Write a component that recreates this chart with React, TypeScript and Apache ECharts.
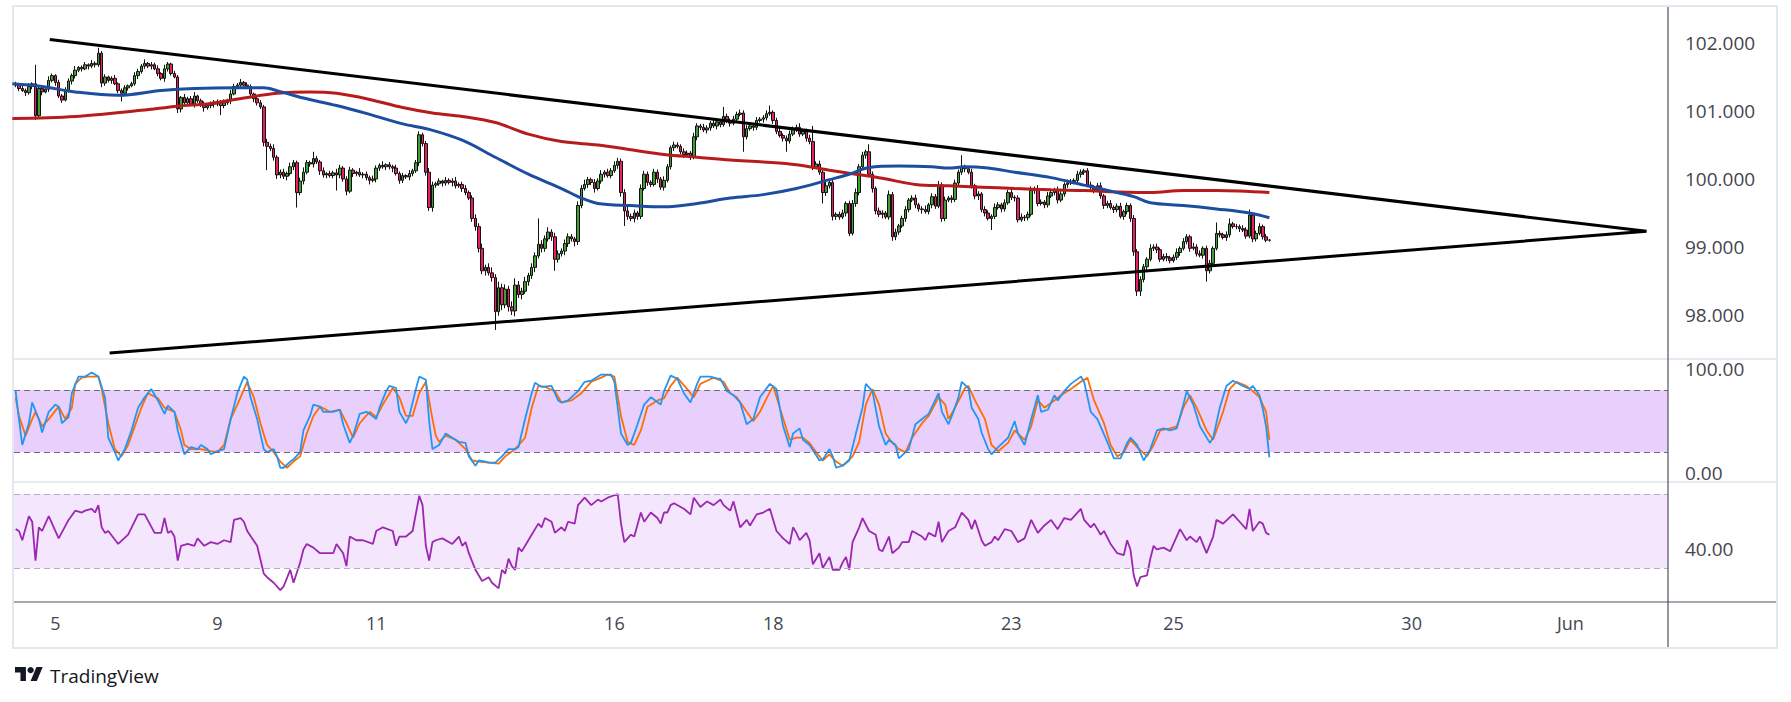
import React, { useEffect, useRef } from "react";
import * as echarts from "echarts";

// ---------- DATA ----------
const TOTAL_BARS = 500; // hourly slots on the time axis (data + empty future space)
const firstOpen = 101.4;

// hourly closes
const closes = [
  101.38, 101.33, 101.30, 101.27, 101.36, 101.40, 100.93, 101.33, 101.28, 101.32,
  101.45, 101.52, 101.42, 101.22, 101.16, 101.30, 101.44, 101.52, 101.60, 101.64,
  101.62, 101.68, 101.66, 101.70, 101.68, 101.85, 101.41, 101.50, 101.45, 101.48,
  101.40, 101.30, 101.26, 101.34, 101.37, 101.40, 101.52, 101.58, 101.66, 101.70,
  101.66, 101.68, 101.62, 101.55, 101.48, 101.62, 101.69, 101.55, 101.50, 101.03,
  101.20, 101.12, 101.18, 101.10, 101.22, 101.15, 101.10, 101.05, 101.08, 101.12,
  101.10, 101.14, 101.08, 101.12, 101.15, 101.25, 101.36, 101.38, 101.42, 101.38,
  101.36, 101.25, 101.18, 101.12, 101.06, 100.54, 100.48, 100.45, 100.32, 100.06,
  100.10, 100.04, 100.08, 100.18, 100.24, 99.80, 99.97, 100.10, 100.24, 100.22,
  100.30, 100.25, 100.12, 100.06, 100.08, 100.05, 100.09, 100.06, 100.16, 100.00,
  99.82, 100.13, 100.08, 100.10, 100.06, 100.07, 100.02, 99.98, 100.00, 100.16,
  100.20, 100.18, 100.21, 100.18, 100.16, 100.08, 99.98, 100.05, 100.03, 100.08,
  100.12, 100.24, 100.65, 100.52, 100.10, 99.58, 99.91, 99.93, 99.97, 99.94,
  99.98, 99.95, 99.97, 99.90, 99.92, 99.86, 99.80, 99.72, 99.42, 99.30,
  98.98, 98.65, 98.70, 98.62, 98.55, 98.05, 98.40, 98.15, 98.38, 98.12,
  98.06, 98.44, 98.30, 98.35, 98.49, 98.58, 98.70, 98.87, 99.04, 98.98,
  99.12, 99.22, 99.15, 98.82, 98.90, 98.94, 99.05, 99.15, 99.12, 99.08,
  99.61, 99.86, 99.92, 99.99, 99.95, 99.86, 99.97, 100.07, 100.10, 100.05,
  100.12, 100.20, 100.26, 99.80, 99.53, 99.45, 99.42, 99.50, 99.45, 99.86,
  100.07, 99.95, 99.92, 100.10, 100.00, 99.88, 99.98, 100.18, 100.46, 100.50,
  100.48, 100.40, 100.36, 100.38, 100.32, 100.62, 100.78, 100.76, 100.72, 100.75,
  100.82, 100.78, 100.84, 100.80, 100.92, 100.86, 100.82, 100.88, 100.95, 100.97,
  100.62, 100.74, 100.78, 100.76, 100.86, 100.88, 100.90, 100.96, 100.98, 100.86,
  100.70, 100.64, 100.60, 100.56, 100.66, 100.74, 100.76, 100.66, 100.70, 100.60,
  100.55, 100.18, 100.22, 100.10, 99.80, 99.90, 99.95, 99.45, 99.48, 99.44,
  99.50, 99.64, 99.20, 99.64, 99.80, 100.18, 100.35, 100.40, 100.07, 99.86,
  99.53, 99.48, 99.50, 99.44, 99.77, 99.15, 99.22, 99.31, 99.42, 99.55,
  99.69, 99.72, 99.62, 99.56, 99.55, 99.52, 99.62, 99.74, 99.60, 99.91,
  99.42, 99.69, 99.72, 99.70, 99.94, 100.10, 100.18, 100.15, 100.10, 99.90,
  99.75, 99.78, 99.55, 99.50, 99.42, 99.45, 99.58, 99.62, 99.56, 99.65,
  99.80, 99.73, 99.72, 99.40, 99.44, 99.43, 99.48, 99.83, 99.86, 99.64,
  99.66, 99.62, 99.75, 99.80, 99.84, 99.69, 99.78, 99.92, 99.94, 99.96,
  99.98, 100.07, 100.10, 100.12, 99.91, 99.88, 99.84, 99.90, 99.75, 99.61,
  99.64, 99.58, 99.55, 99.60, 99.45, 99.52, 99.61, 99.42, 98.93, 98.35,
  98.52, 98.71, 98.82, 98.98, 99.00, 98.96, 98.82, 98.86, 98.84, 98.80,
  98.85, 98.92, 98.98, 99.08, 99.15, 98.98, 99.00, 98.90, 98.88, 98.98,
  98.65, 98.76, 98.98, 99.20, 99.18, 99.14, 99.18, 99.34, 99.30, 99.30,
  99.27, 99.25, 99.16, 99.47, 99.12, 99.20, 99.30, 99.15, 99.10, 99.10,
];

// upper / lower wick lengths above/below the body, in hundredths
const wickUp = [
  3,2,4,3,5,2,28,4,3,2,6,3,2,4,3,5,4,3,6,2,
  3,4,2,5,3,8,3,4,2,3,5,2,3,4,2,3,5,4,3,6,
  2,4,3,5,2,6,3,2,4,3,2,5,3,4,6,2,3,4,3,2,
  4,3,2,5,3,6,4,3,5,2,4,3,2,3,4,3,5,4,6,3,
  4,5,3,6,4,3,5,7,4,3,10,4,3,5,2,4,3,6,5,3,
  4,5,3,2,6,3,4,3,5,4,3,6,2,4,3,5,3,4,2,5,
  3,4,5,3,4,6,5,3,4,2,5,3,4,6,3,4,5,3,4,6,
  5,7,4,6,8,5,9,6,7,5,8,10,6,5,7,4,6,5,38,6,
  5,7,4,6,5,4,6,5,4,3,6,5,7,4,3,5,4,6,3,5,
  4,6,5,4,5,6,4,5,3,6,5,4,3,5,4,3,6,4,3,5,
  4,3,5,4,3,6,4,3,5,4,3,5,3,4,14,4,3,5,4,5,
  4,5,3,4,5,3,4,5,10,3,4,5,3,4,5,3,4,6,3,4,
  5,23,4,5,3,6,4,5,3,4,5,3,4,5,6,4,5,3,11,4,
  3,5,4,3,6,4,5,3,4,5,3,4,5,3,4,6,3,5,4,6,
  4,5,3,4,5,4,17,3,4,5,3,4,3,5,4,3,6,4,3,5,
  4,8,3,4,5,3,4,6,3,5,4,3,6,4,3,5,4,3,5,4,
  3,5,4,3,4,5,3,4,5,3,4,5,3,4,5,3,4,3,5,4,
  5,4,3,6,4,5,3,4,5,3,4,6,3,5,4,3,6,4,5,3,
  4,5,3,16,4,3,5,8,3,4,3,5,4,8,3,4,5,3,4,2,
];
const wickDown = [
  3,4,2,5,3,4,6,3,5,2,4,3,5,3,4,2,3,5,4,3,
  4,2,5,3,4,3,6,4,3,5,2,4,12,3,4,2,3,5,3,4,
  3,5,2,4,3,5,4,3,2,6,5,3,4,2,5,3,4,6,3,4,
  5,3,14,4,3,5,2,4,3,5,4,3,5,4,3,6,35,4,5,6,
  5,4,6,3,5,22,4,5,3,4,5,3,6,4,5,3,4,23,5,4,
  6,3,5,4,3,5,4,6,3,5,4,3,5,4,6,3,5,4,3,5,
  4,3,5,4,5,5,6,4,3,5,4,3,6,4,3,5,4,3,5,6,
  6,5,7,4,6,27,6,8,5,7,6,8,5,7,4,6,5,7,4,6,
  5,4,6,17,5,4,6,5,4,7,5,4,3,5,4,6,3,4,5,3,
  4,3,5,6,22,5,4,6,5,4,3,5,4,3,6,4,5,3,4,5,
  3,4,5,3,4,3,5,4,3,5,4,3,5,4,3,4,5,3,4,3,
  22,4,3,5,4,3,5,4,3,5,4,3,5,16,4,3,5,4,3,5,
  4,5,3,4,16,5,4,6,5,4,3,5,4,3,5,4,3,5,4,6,
  5,4,6,3,4,6,5,4,3,5,4,3,5,4,6,3,4,5,4,3,
  5,4,3,5,4,3,4,5,3,4,5,6,4,5,3,17,4,3,5,4,
  3,4,5,4,3,5,4,3,5,4,3,5,4,3,4,5,3,4,5,3,
  4,3,5,4,3,4,5,3,4,5,4,3,5,4,3,5,4,5,6,7,
  7,4,5,3,4,5,4,3,5,4,3,4,5,3,4,5,3,4,3,5,
  16,4,5,3,4,3,5,4,3,4,5,3,4,3,5,4,3,4,3,2,
];

// moving averages: [bar index, value]
const maBlue = [
  [-1,101.40],[8,101.36],[18,101.28],[31,101.23],[44,101.30],[54,101.33],[67,101.34],[75,101.34],
  [79,101.30],[87,101.19],[97,101.08],[107,100.95],[117,100.81],[125,100.73],[135,100.57],[145,100.32],
  [155,100.07],[165,99.86],[171,99.72],[176,99.64],[186,99.61],[196,99.59],[206,99.64],[216,99.72],
  [226,99.77],[236,99.86],[246,99.99],[252,100.07],[258,100.17],[267,100.19],[277,100.18],[282,100.16],
  [287,100.18],[294,100.16],[302,100.10],[313,100.02],[323,99.91],[333,99.80],[338,99.74],[343,99.65],
  [353,99.61],[363,99.56],[373,99.50],[379,99.43],
];
const maRed = [
  [-1,100.89],[18,100.92],[38,101.01],[49,101.07],[59,101.11],[69,101.19],[79,101.26],[89,101.28],
  [97,101.26],[107,101.17],[117,101.05],[126,100.97],[135,100.92],[145,100.83],[155,100.66],[165,100.55],
  [176,100.50],[186,100.43],[196,100.36],[206,100.32],[216,100.28],[226,100.25],[236,100.21],[246,100.13],
  [254,100.07],[262,100.01],[272,99.92],[282,99.90],[292,99.88],[302,99.86],[313,99.84],[323,99.83],
  [333,99.81],[343,99.80],[353,99.83],[363,99.83],[379,99.80],
];

// symmetrical triangle: upper start, apex, lower start
const triangle = [[10.3, 102.05], [493, 99.23], [28.4, 97.44]];

// stochastic %K and %D: [bar index, value]
const stochK = [
  [0,79],[1,52],[2,27],[4,48],[5,68],[7,52],[8,39],[10,59],[12,66],[13,64],[14,48],[16,54],[17,77],[19,93],
  [21,93],[23,97],[25,93],[27,73],[28,34],[30,20],[31,12],[33,23],[35,41],[37,63],[39,73],[41,81],[43,70],
  [45,57],[46,65],[48,59],[49,41],[51,18],[53,25],[55,23],[56,27],[58,23],[59,18],[61,21],[63,23],[65,52],
  [67,77],[69,93],[70,90],[71,73],[73,52],[75,23],[76,20],[78,23],[79,16],[80,5],[81,5],[83,11],[84,13],
  [86,20],[87,41],[89,55],[90,66],[92,64],[93,59],[96,59],[98,61],[99,47],[101,29],[102,36],[104,57],
  [106,59],[107,57],[109,52],[110,63],[112,79],[113,84],[115,82],[116,59],[118,48],[119,55],[121,81],
  [122,93],[124,90],[125,50],[126,23],[127,25],[128,27],[130,38],[132,34],[134,30],[136,29],[137,16],
  [139,7],[140,12],[142,11],[143,10],[145,10],[147,16],[149,23],[151,23],[152,25],[154,52],[156,77],
  [157,87],[159,83],[162,84],[164,70],[165,68],[167,70],[170,79],[172,88],[174,89],[177,95],[180,95],
  [181,88],[183,38],[185,27],[186,29],[188,47],[190,66],[192,73],[195,66],[196,79],[198,94],[200,91],
  [202,77],[204,68],[206,86],[207,93],[210,93],[212,91],[213,91],[215,79],[217,75],[219,68],[221,47],
  [223,52],[225,73],[228,86],[230,81],[232,45],[234,25],[235,38],[237,43],[238,32],[240,27],[243,12],
  [244,13],[246,23],[247,16],[248,5],[250,7],[252,12],[254,38],[256,63],[257,86],[259,79],[261,45],
  [263,27],[264,32],[266,27],[267,14],[270,23],[272,47],[274,52],[276,57],[279,77],[280,59],[282,47],
  [283,55],[285,73],[286,88],[288,82],[289,63],[291,52],[292,39],[294,23],[295,18],[297,25],[300,34],
  [302,50],[303,38],[305,27],[307,52],[309,75],[310,59],[312,61],[314,75],[315,70],[317,79],[319,86],
  [322,93],[323,88],[325,59],[327,52],[330,30],[332,14],[334,14],[336,29],[337,34],[339,27],[341,12],
  [343,23],[345,41],[347,43],[349,41],[351,43],[353,66],[354,79],[356,66],[358,45],[361,29],[362,34],
  [364,63],[366,84],[368,89],[371,84],[373,81],[374,84],[376,75],[377,62],[378,45],[379,15],
];
const stochD = [
  [0,73],[1,55],[3,36],[5,52],[6,59],[8,45],[10,52],[13,64],[15,52],[17,63],[18,86],[20,92],[22,93],
  [25,93],[26,81],[28,48],[30,23],[32,16],[34,27],[36,45],[38,63],[40,77],[43,72],[45,63],[48,59],
  [50,41],[51,27],[53,23],[56,23],[59,21],[61,20],[63,27],[65,52],[68,73],[70,88],[72,73],[74,48],
  [76,27],[78,20],[80,11],[82,5],[84,11],[86,16],[88,38],[90,55],[92,64],[95,59],[98,61],[100,48],
  [102,34],[104,48],[107,59],[109,54],[111,66],[114,82],[116,73],[118,55],[120,55],[122,77],[124,88],
  [125,70],[126,52],[127,36],[128,30],[130,36],[133,32],[136,23],[138,12],[140,11],[143,10],[146,9],
  [148,16],[151,23],[154,34],[156,63],[158,84],[160,83],[163,79],[165,68],[168,70],[171,77],[174,88],
  [177,92],[179,95],[181,93],[183,55],[185,30],[187,27],[189,41],[191,64],[194,70],[196,72],[198,84],
  [200,92],[203,81],[205,73],[207,86],[209,89],[211,92],[214,88],[216,77],[218,73],[221,59],[223,50],
  [225,59],[227,72],[229,84],[231,63],[234,32],[236,34],[238,34],[240,29],[242,20],[244,12],[246,18],
  [248,11],[250,7],[253,16],[255,30],[257,66],[259,81],[261,66],[263,38],[265,29],[267,23],[269,20],
  [271,34],[274,48],[276,55],[279,73],[281,66],[282,52],[284,63],[287,82],[288,84],[290,70],[293,52],
  [295,27],[297,21],[300,29],[302,41],[305,32],[307,45],[309,70],[311,63],[314,70],[316,75],[319,81],
  [322,88],[324,92],[326,70],[329,48],[331,27],[333,16],[335,20],[337,32],[339,25],[342,16],[344,27],
  [346,41],[349,43],[351,45],[353,63],[355,75],[357,63],[360,41],[362,32],[365,59],[367,81],[369,88],
  [372,84],[374,79],[376,73],[378,59],[379,32],
];

// RSI: [bar index, value]
const rsi = [
  [0,51],[1,50],[2,45],[4,58],[5,55],[6,34],[7,52],[8,50],[10,58],[13,46],[16,56],[18,61],[20,60],[21,61],
  [23,62],[24,60],[25,64],[26,52],[27,49],[28,50],[31,43],[34,48],[37,59],[39,59],[42,49],[44,49],[45,57],
  [46,49],[47,50],[48,47],[49,34],[50,42],[52,43],[54,42],[55,46],[57,42],[59,44],[61,43],[63,45],[65,44],
  [66,56],[68,57],[69,55],[70,50],[73,42],[75,27],[76,25],[78,22],[80,18],[81,20],[83,29],[84,22],[86,33],
  [87,40],[88,43],[90,41],[92,38],[96,38],[97,43],[99,38],[100,31],[101,47],[103,45],[105,45],[108,43],
  [109,50],[111,52],[114,50],[115,42],[116,47],[118,47],[120,50],[122,69],[123,64],[124,42],[125,34],
  [126,44],[127,45],[129,46],[132,43],[134,47],[135,42],[136,44],[137,38],[139,29],[141,23],[143,25],
  [144,22],[146,19],[147,29],[148,27],[149,35],[150,31],[151,29],[152,41],[153,39],[155,45],[158,54],
  [159,52],[160,57],[162,55],[163,49],[165,52],[166,50],[167,55],[169,54],[170,64],[172,68],[174,64],
  [176,67],[177,66],[179,68],[182,70],[183,54],[184,44],[186,48],[187,47],[189,60],[190,55],[192,60],
  [194,57],[195,54],[196,60],[197,60],[198,64],[199,65],[202,62],[204,59],[205,68],[207,63],[209,66],
  [211,64],[213,67],[214,64],[216,61],[217,66],[219,52],[221,56],[222,53],[224,59],[226,60],[228,62],
  [230,50],[232,46],[234,43],[235,52],[236,49],[237,45],[239,49],[240,45],[241,32],[243,38],[244,30],
  [246,36],[247,29],[249,29],[250,33],[251,36],[252,29],[253,44],[255,52],[256,57],[258,50],[260,48],
  [261,40],[262,39],[264,47],[265,38],[267,41],[268,44],[270,44],[271,50],[274,47],[275,45],[276,49],
  [278,47],[279,55],[280,44],[282,50],[284,52],[286,60],[288,56],[289,51],[290,56],[292,45],[293,42],
  [295,44],[296,47],[297,45],[299,51],[301,50],[303,44],[305,46],[307,56],[309,49],[311,53],[313,56],
  [315,51],[317,57],[319,56],[322,62],[323,56],[325,52],[326,54],[328,48],[329,50],[331,43],[333,38],
  [335,37],[336,45],[337,40],[338,26],[339,20],[340,25],[342,26],[343,35],[344,42],[345,40],[347,41],
  [349,39],[350,43],[352,51],[354,45],[355,47],[357,44],[358,47],[360,38],[362,47],[363,56],[365,54],
  [368,59],[370,55],[372,51],[373,62],[374,50],[376,55],[377,54],[378,49],[379,48],
];

// axis ticks
const dayTicks = [12, 61, 109, 181, 229, 301, 350, 422, 470];
const dayLabels = ["5", "9", "11", "16", "18", "23", "25", "30", "Jun"];
const priceTicks = [98, 99, 100, 101, 102];
const stochTicks = [0, 100];
const rsiTicks = [40];
const stochBand = [20, 80];
const rsiBand = [30, 70];

// ---------- STYLE ----------
const FONT = "'Open Sans', 'Noto Sans', sans-serif";
const LABEL = "#43464f";
const GRID_L = 14;
const PLOT_W = 1654;

export default function App() {
  const ref = useRef<HTMLDivElement>(null);

  useEffect(() => {
    if (!ref.current) return;
    const chart = echarts.init(ref.current, null, { renderer: "svg" });

    const candles = closes.map((c, i) => {
      const o = i === 0 ? firstOpen : closes[i - 1];
      const hi = Math.max(o, c) + wickUp[i] / 100;
      const lo = Math.min(o, c) - wickDown[i] / 100;
      return [o, c, +lo.toFixed(2), +hi.toFixed(2)];
    });
    const cats = Array.from({ length: TOTAL_BARS }, (_, i) => String(i));
    const xMin = -0.5;
    const xMax = TOTAL_BARS - 0.5;

    const hiddenValueX = (gridIndex: number) => ({
      type: "value",
      gridIndex,
      min: xMin,
      max: xMax,
      show: false,
    });

    const logoColor = "#131722";
    const s = 0.78;
    const lx = 15;
    const ly = 663.9;
    const pt = (x: number, y: number) => [lx + x * s, ly + y * s];

    const option: any = {
      animation: false,
      backgroundColor: "#ffffff",
      textStyle: { fontFamily: FONT },
      grid: [
        { left: GRID_L, top: 7, width: PLOT_W, height: 352 },
        { left: GRID_L, top: 359, width: PLOT_W, height: 123 },
        { left: GRID_L, top: 482, width: PLOT_W, height: 120 },
      ],
      xAxis: [
        { type: "category", gridIndex: 0, data: cats, boundaryGap: true, show: false },
        hiddenValueX(0),
        hiddenValueX(1),
        {
          type: "value",
          gridIndex: 2,
          min: xMin,
          max: xMax,
          axisLine: { show: false },
          axisTick: { show: false },
          splitLine: { show: false },
          axisLabel: {
            customValues: dayTicks,
            formatter: (v: number) => {
              const k = dayTicks.indexOf(Math.round(v));
              return k >= 0 ? dayLabels[k] : "";
            },
            margin: 12,
            fontSize: 18,
            color: LABEL,
            fontFamily: FONT,
          },
        },
      ],
      yAxis: [
        {
          type: "value",
          gridIndex: 0,
          position: "right",
          min: 97.353,
          max: 102.529,
          axisLine: { show: false },
          axisTick: { show: false },
          splitLine: { show: false },
          axisLabel: {
            customValues: priceTicks,
            formatter: (v: number) => v.toFixed(3),
            margin: 17,
            fontSize: 19,
            color: LABEL,
            fontFamily: FONT,
          },
        },
        {
          type: "value",
          gridIndex: 1,
          position: "right",
          min: -8.75,
          max: 110,
          axisLine: { show: false },
          axisTick: { show: false },
          splitLine: { show: false },
          axisLabel: {
            customValues: stochTicks,
            formatter: (v: number) => v.toFixed(2),
            margin: 17,
            fontSize: 19,
            color: LABEL,
            fontFamily: FONT,
          },
        },
        {
          type: "value",
          gridIndex: 2,
          position: "right",
          min: 11.6,
          max: 76.5,
          axisLine: { show: false },
          axisTick: { show: false },
          splitLine: { show: false },
          axisLabel: {
            customValues: rsiTicks,
            formatter: (v: number) => v.toFixed(2),
            margin: 17,
            fontSize: 19,
            color: LABEL,
            fontFamily: FONT,
          },
        },
      ],
      series: [
        {
          type: "candlestick",
          xAxisIndex: 0,
          yAxisIndex: 0,
          data: candles,
          barWidth: 3,
          z: 3,
          itemStyle: {
            color: "#3f9f33",
            color0: "#e91e63",
            borderColor: "#111111",
            borderColor0: "#111111",
            borderWidth: 1,
          },
        },
        {
          type: "line",
          xAxisIndex: 1,
          yAxisIndex: 0,
          data: maRed,
          smooth: 0.35,
          showSymbol: false,
          z: 4,
          lineStyle: { color: "#b71c1c", width: 3 },
        },
        {
          type: "line",
          xAxisIndex: 1,
          yAxisIndex: 0,
          data: maBlue,
          smooth: 0.35,
          showSymbol: false,
          z: 4,
          lineStyle: { color: "#1c4da1", width: 3 },
        },
        {
          type: "line",
          xAxisIndex: 1,
          yAxisIndex: 0,
          data: triangle,
          showSymbol: false,
          z: 5,
          lineStyle: { color: "#000000", width: 3, join: "miter" },
        },
        // stochastic band
        {
          type: "line",
          xAxisIndex: 2,
          yAxisIndex: 1,
          data: [],
          z: 1,
          markArea: {
            silent: true,
            itemStyle: { color: "#e9d0fc" },
            data: [[{ yAxis: stochBand[1] }, { yAxis: stochBand[0] }]],
          },
          markLine: {
            silent: true,
            symbol: ["none", "none"],
            label: { show: false },
            lineStyle: { color: "#6b6e79", type: [6, 4], width: 1 },
            data: [{ yAxis: stochBand[1] }, { yAxis: stochBand[0] }],
          },
        },
        {
          type: "line",
          xAxisIndex: 2,
          yAxisIndex: 1,
          data: stochD,
          showSymbol: false,
          z: 3,
          lineStyle: { color: "#ff6d00", width: 1.8 },
        },
        {
          type: "line",
          xAxisIndex: 2,
          yAxisIndex: 1,
          data: stochK,
          showSymbol: false,
          z: 4,
          lineStyle: { color: "#2196f3", width: 1.8 },
        },
        // RSI band
        {
          type: "line",
          xAxisIndex: 3,
          yAxisIndex: 2,
          data: [],
          z: 1,
          markArea: {
            silent: true,
            itemStyle: { color: "#f3e6fd" },
            data: [[{ yAxis: rsiBand[1] }, { yAxis: rsiBand[0] }]],
          },
          markLine: {
            silent: true,
            symbol: ["none", "none"],
            label: { show: false },
            lineStyle: { color: "#b6adc2", type: [6, 4], width: 1 },
            data: [{ yAxis: rsiBand[1] }, { yAxis: rsiBand[0] }],
          },
        },
        {
          type: "line",
          xAxisIndex: 3,
          yAxisIndex: 2,
          data: rsi,
          showSymbol: false,
          z: 3,
          lineStyle: { color: "#9c27b0", width: 1.8 },
        },
      ],
      graphic: [
        {
          type: "rect",
          shape: { x: 13, y: 6, width: 1764, height: 642 },
          style: { fill: "none", stroke: "#e6e7ee", lineWidth: 2 },
          silent: true,
          z: 1,
        },
        {
          type: "line",
          shape: { x1: 14, y1: 359, x2: 1776, y2: 359 },
          style: { stroke: "#e0e3eb", lineWidth: 1.5 },
          silent: true,
          z: 10,
        },
        {
          type: "line",
          shape: { x1: 14, y1: 482, x2: 1776, y2: 482 },
          style: { stroke: "#e0e3eb", lineWidth: 1.5 },
          silent: true,
          z: 10,
        },
        {
          type: "line",
          shape: { x1: 14, y1: 602, x2: 1776, y2: 602 },
          style: { stroke: "#50535e", lineWidth: 1.2 },
          silent: true,
          z: 10,
        },
        {
          type: "line",
          shape: { x1: 1668, y1: 7, x2: 1668, y2: 647 },
          style: { stroke: "#50535e", lineWidth: 1.2 },
          silent: true,
          z: 10,
        },
        // TradingView logo
        {
          type: "polygon",
          shape: {
            points: [pt(0, 4), pt(14, 4), pt(14, 22), pt(7, 22), pt(7, 11), pt(0, 11)],
          },
          style: { fill: logoColor },
          silent: true,
        },
        {
          type: "circle",
          shape: { cx: lx + 20 * s, cy: ly + 8 * s, r: 4 * s },
          style: { fill: logoColor },
          silent: true,
        },
        {
          type: "polygon",
          shape: {
            points: [pt(20, 22), pt(28, 22), pt(35.5, 4), pt(27.5, 4)],
          },
          style: { fill: logoColor },
          silent: true,
        },
        {
          type: "text",
          x: 50,
          y: 676,
          style: {
            text: "TradingView",
            fill: logoColor,
            font: `19px ${FONT}`,
            verticalAlign: "middle",
            align: "left",
          },
          silent: true,
        },
      ],
    };

    chart.setOption(option);
    return () => chart.dispose();
  }, []);

  return (
    <div
      ref={ref}
      style={{
        position: "fixed",
        left: 0,
        top: 0,
        width: 1791,
        height: 702,
        background: "#ffffff",
      }}
    />
  );
}
